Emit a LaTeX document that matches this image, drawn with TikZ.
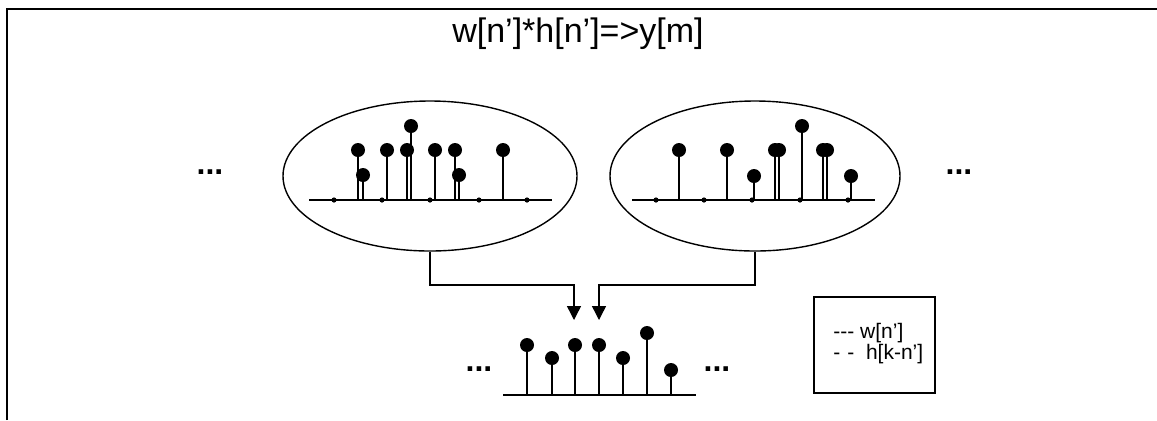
\documentclass[tikz,border=0pt]{standalone}
\usepackage{fontspec}
\setmainfont{Liberation Sans}
\usetikzlibrary{arrows.meta,shapes.geometric}

% one drawing unit = one pixel of the 1157 x 420 canvas, y grows downward
\tikzset{
  px/.style={x=0.5pt,y=-0.5pt},
  frame/.style={line width=1.3pt},
  blob/.style={draw,line width=0.7pt,ellipse,inner sep=0pt},
  axis/.style={line width=1pt},
  stemline/.style={line width=0.7pt},
  link/.style={line width=0.7pt,-{Triangle[width=7pt,length=7pt]}},
  keybox/.style={draw,line width=0.7pt},
  lbl/.style={font=\fontsize{17}{18}\selectfont,inner sep=0pt},
  keytext/.style={font=\fontsize{10.5}{12}\selectfont,inner sep=0pt,anchor=west},
  dots/.style={font=\bfseries\fontsize{16}{16}\selectfont,inner sep=0pt}
}
% lollipop sample: x position, top of the stem, baseline
\newcommand\sampleat[3]{%
  \draw[stemline] (#1,#3) -- (#1,#2);
  \fill (#1,#2) circle[radius=3.5pt];}
% zero-valued sample: a small dot on the axis
\newcommand\zeroat[2]{\fill (#1,#2) circle[radius=1.3pt];}

\begin{document}
\begin{tikzpicture}[px]
\useasboundingbox (0,0) rectangle (1157,420);

% frame
\draw[frame] (7,420) -- (7,9) -- (1157,9);

% heading
\node[lbl] (title) at (578,34) {w[n’]*h[n’]=>y[m]};

% first operand
\node[blob,minimum width=147pt,minimum height=75pt] (le) at (430,176) {};
\draw[axis] (309,200) -- (552,200);
\foreach \x in {334,382,430,479,527} {\zeroat{\x}{200}}
\sampleat{358}{150}{200}
\sampleat{363}{175}{200}
\sampleat{387}{150}{200}
\sampleat{407}{150}{200}
\sampleat{411}{126}{200}
\sampleat{435}{150}{200}
\sampleat{455}{150}{200}
\sampleat{459}{175}{200}
\sampleat{503}{150}{200}

% second operand
\node[blob,minimum width=145pt,minimum height=75pt] (re) at (755,176) {};
\draw[axis] (632,200) -- (875,200);
\foreach \x in {656,704,752,800,848} {\zeroat{\x}{200}}
\sampleat{679}{150}{200}
\sampleat{727}{150}{200}
\sampleat{754}{176}{200}
\sampleat{775}{150}{200}
\sampleat{779}{150}{200}
\sampleat{802}{126}{200}
\sampleat{823}{150}{200}
\sampleat{827}{150}{200}
\sampleat{851}{176}{200}

% continuation marks beside the operands
\node[dots] (ldots) at (210,172) {...};
\node[dots] (rdots) at (959,172) {...};

% connectors into the result
\coordinate (kink) at (0,285);
\coordinate (lt) at (574,320);
\coordinate (rt) at (599,320);
\draw[link] (le.south) -- (le.south |- kink) -| (lt);
\draw[link] (re.south) -- (re.south |- kink) -| (rt);

% result sequence
\draw[axis] (503,395) -- (696,395);
\sampleat{527}{345}{395}
\sampleat{552}{358}{395}
\sampleat{575}{345}{395}
\sampleat{599}{345}{395}
\sampleat{623}{358}{395}
\sampleat{647}{333}{395}
\sampleat{671}{370}{395}
\node[dots] (bldots) at (479,369) {...};
\node[dots] (brdots) at (717,369) {...};

% key
\node[keybox,minimum width=60.5pt,minimum height=48pt] (key) at (874.5,345) {};
\node[keytext] (k1) at (833,333) {-{}-{}- w[n’]};
\node[keytext] (k2) at (833,354) {-\,\,-\ \ h[k-n’]};
\end{tikzpicture}
\end{document}
